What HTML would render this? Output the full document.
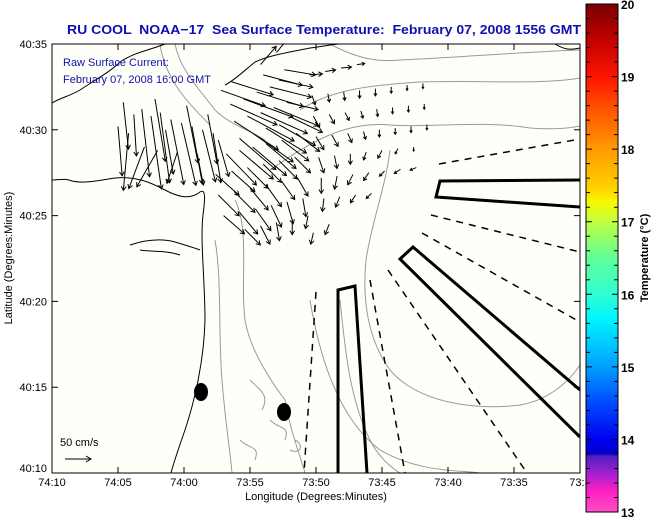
<!DOCTYPE html>
<html><head><meta charset="utf-8"><style>
html,body{margin:0;padding:0;background:#fff;}
svg{display:block;font-family:"Liberation Sans",sans-serif;}
</style></head><body>
<svg id="chart" width="651" height="518" viewBox="0 0 651 518" xmlns="http://www.w3.org/2000/svg">
<defs>
<linearGradient id="cb" x1="0" y1="0" x2="0" y2="1">
<stop offset="0" stop-color="#7a0000"/>
<stop offset="0.07" stop-color="#c00000"/>
<stop offset="0.143" stop-color="#ff1400"/>
<stop offset="0.21" stop-color="#ff5500"/>
<stop offset="0.286" stop-color="#ff9a00"/>
<stop offset="0.36" stop-color="#ffd000"/>
<stop offset="0.39" stop-color="#f8f800"/>
<stop offset="0.429" stop-color="#c0ff40"/>
<stop offset="0.5" stop-color="#60ff98"/>
<stop offset="0.571" stop-color="#30ffd0"/>
<stop offset="0.62" stop-color="#00f4ff"/>
<stop offset="0.714" stop-color="#00a0ff"/>
<stop offset="0.78" stop-color="#0050ff"/>
<stop offset="0.857" stop-color="#0000f0"/>
<stop offset="0.885" stop-color="#0000c8"/>
<stop offset="0.89" stop-color="#5020c0"/>
<stop offset="0.93" stop-color="#b020d0"/>
<stop offset="0.96" stop-color="#ff20c0"/>
<stop offset="1" stop-color="#ff50c8"/>
</linearGradient>
<clipPath id="pc"><rect x="52" y="44" width="528" height="429"/></clipPath>
</defs>
<text x="67" y="34" textLength="514" lengthAdjust="spacingAndGlyphs" font-size="13" font-weight="bold" fill="#1010b0" xml:space="preserve">RU COOL  NOAA−17  Sea Surface Temperature:  February 07, 2008 1556 GMT</text>
<rect x="52" y="44" width="528" height="429" fill="#fffffa"/>
<g clip-path="url(#pc)">
<g fill="none" stroke="#999" stroke-width="1">
<path d="M175,44 C180,70 200,90 215,110 C230,125 250,130 265,140"/>
<path d="M160,44 C165,80 190,105 210,125"/>
<path d="M330,44 C360,60 380,62 400,60 C450,58 520,52 580,50"/>
<path d="M300,110 C330,90 370,85 420,82 C480,80 540,85 580,78"/>
<path d="M270,170 C300,150 340,120 390,125 C430,128 480,120 530,128 C555,130 570,128 580,126"/>
<path d="M235,200 C250,230 240,280 245,320 C250,350 270,380 285,400 C290,430 300,455 305,473"/>
<path d="M215,240 C222,280 218,330 222,380 C225,420 230,450 232,473"/>
<path d="M390,150 C385,190 372,220 366,260 C362,300 368,340 390,370 C420,405 480,410 520,405 C550,400 570,380 580,365"/>
<path d="M340,300 C345,350 350,400 370,440 C380,460 395,470 400,473"/>
<path d="M310,300 C320,360 340,420 380,450 C420,473 460,470 480,473"/>
<path d="M250,380 C260,390 270,395 262,410 M270,420 C280,430 290,425 285,440 M240,440 C250,450 260,445 255,460 M295,440 C305,445 300,455 290,450"/>
</g>
<g fill="none" stroke="#000" stroke-width="1">
<path d="M52,103 C60,98 70,96 80,90 C95,80 110,72 120,62 C135,52 150,50 165,44"/>
<path d="M225,85 C235,80 245,70 255,62 C270,55 290,52 310,48 C325,46 335,44 340,44"/>
<path d="M52,180 C60,180 65,178 72,181 C85,184 100,180 115,178 C135,176 150,182 165,190 C178,197 190,200 200,192 C206,188 205,200 203,215 C200,240 205,280 205,320 C204,360 195,400 185,430 C178,450 173,465 171,473"/>
<path d="M130,245 C145,240 160,238 175,242 C185,245 195,248 200,250 M140,250 C150,252 165,250 180,255"/>
<path d="M555,44 C565,50 570,50 580,48"/>
</g>
<ellipse cx="201" cy="392" rx="7" ry="9" fill="#000"/>
<ellipse cx="284" cy="412" rx="7" ry="9" fill="#000"/>
<g fill="none" stroke="#000" stroke-width="3">
<path d="M338,473 L338,290 L355,286 L367,473"/>
<path d="M580,180 L440,181 L436,197 L580,207"/>
<path d="M580,390 L413,247 L400,259 L580,437"/>
</g>
<g fill="none" stroke="#000" stroke-width="1.5" stroke-dasharray="7,6">
<path d="M439,164 L580,139"/>
<path d="M431,215 L580,252"/>
<path d="M422,233 L580,322"/>
<path d="M388,270 L527,473"/>
<path d="M370,280 L405,473"/>
<path d="M316,292 L304,473"/>
</g>
<g id="arrows" stroke="#000" stroke-width="1" fill="none"></g>
</g>
<rect x="52" y="44" width="528" height="429" fill="none" stroke="#000" stroke-width="1"/>
<text x="63" y="66" font-size="11" fill="#1010b0">Raw Surface Current:</text>
<text x="63" y="83" font-size="11" fill="#1010b0">February 07, 2008 16:00 GMT</text>
<text x="60" y="446" font-size="11" fill="#000">50 cm/s</text>
<g stroke="#000" fill="none"><path d="M65,459 L91,459 M86,456 L91,459 L86,462"/></g>
<g id="xaxis"></g>
<g id="yaxis"></g>
<text x="316" y="500" text-anchor="middle" font-size="11">Longitude (Degrees:Minutes)</text>
<text transform="translate(12,258) rotate(-90)" text-anchor="middle" font-size="11">Latitude (Degrees:Minutes)</text>
<rect x="586" y="4" width="32" height="508" fill="url(#cb)" stroke="#000" stroke-width="1"/>
<g id="cbticks"></g>
<text transform="translate(648,258) rotate(-90)" text-anchor="middle" font-size="11" font-weight="bold">Temperature (°C)</text>
</svg>
<script>
const xTickLabels = ["74:10","74:05","74:00","73:55","73:50","73:45","73:40","73:35","73:3"];
const xTickMinutes = [0,5,10,15,20,25,30,35,40];
const yTickLabels = ["40:10","40:15","40:20","40:25","40:30","40:35"];
const yTickMinutes = [0,5,10,15,20,25];
const cbValues = [13,14,15,16,17,18,19,20];
// arrow positions: minutes east of 74:10W, minutes north of 40:10N
const arrowX = [5.0,5.8,6.8,7.5,8.2,9.0,9.8,10.6,11.4,12.2,7.0,8.0,9.5,11.0,12.6,5.4,6.2,7.8,8.6,10.2,11.8,
13.5,14.5,15.5,16.5,17.2,13.8,14.8,15.8,16.8,17.8,14.2,15.2,16.2,17.2,18.2,13.2,14.2,15.2,16.2,17.4,18.5,15.8,17.0,12.8,13.6,16.0,17.6,
12.4,13.6,14.8,16,17.2,18.4,12.6,13.8,15.0,16.2,17.4,18.6,13,14.2,15.4,16.6,17.8,19,14.6,15.8,17.0,18.2,19.4,
19.5,20.7,21.9,23.1,19.7,20.9,22.1,23.3,24.5,25.7,26.9,28.1,19.8,21,22.2,23.4,24.6,25.8,27,28.2,
20,21.2,22.4,23.6,24.8,26,27.2,28.4,20.2,21.4,22.6,23.8,25,26.2,27.4,20.4,21.6,22.8,24,25.2,26.4,27.6,20.6,21.8,23,24.2,19.8,21];
const arrowY = [20.2,19.8,21.2,20.8,21.0,20.6,20.4,20.2,20.0,19.8,19.0,18.8,18.7,18.6,19.4,21.6,20.9,21.8,20.0,21.4,20.9,
21.5,21.8,22.2,22.5,22.9,20.5,20.8,21.0,21.3,21.6,19.5,19.8,20.1,20.3,20.7,18.6,18.8,19.0,19.2,19.4,19.8,23.8,24.5,22.3,22.8,23.2,23.5,
17.4,17.6,17.8,18,18.2,18.4,16.2,16.4,16.6,16.8,17.0,17.2,15.0,15.2,15.4,15.6,15.8,16,14.2,14.4,14.6,14.8,15,
23.2,23.4,23.6,23.8,22.0,22.1,22.2,22.3,22.4,22.5,22.6,22.7,20.8,20.9,21,21.1,21.2,21.3,21.4,21.5,
19.6,19.7,19.8,19.9,20,20.1,20.2,20.3,18.4,18.5,18.6,18.7,18.8,18.9,19,17.2,17.3,17.4,17.5,17.6,17.7,17.8,16.0,16.1,16.2,16.3,14.0,14.5];
const arrowU = [8,-10,15,20,18,25,28,20,25,15,-30,-40,-20,12,20,10,5,20,15,22,18,
90,95,90,80,65,85,90,90,85,60,70,78,78,70,58,58,65,65,58,52,45,30,25,85,80,75,60,
45,45,40,35,35,30,40,40,35,30,25,20,40,35,30,20,12,6,30,18,6,0,-5,
25,20,20,15,6,3,2,0,0,0,0,0,12,10,8,4,2,0,0,0,
15,12,8,4,0,0,0,0,10,5,0,-5,-8,-5,0,0,-5,-10,-10,-10,-12,-12,-3,-8,-10,-10,-5,-8];
const arrowV = [-95,-110,-130,-140,-135,-125,-120,-110,-100,-95,-80,-70,-60,-60,-70,-90,-80,-120,-85,-110,-95,
-40,-35,-28,-20,-14,-55,-48,-40,-35,-14,-60,-55,-48,-40,-28,-60,-55,-55,-48,-40,-35,35,30,-30,-25,-20,-10,
-40,-40,-40,-35,-35,-30,-40,-40,-42,-42,-35,-35,-35,-42,-42,-42,-42,-35,-30,-35,-35,-30,-25,
2,3,2,2,-18,-16,-16,-15,-14,-12,-10,-10,-22,-18,-15,-14,-14,-12,-12,-10,
-25,-22,-18,-15,-14,-12,-12,-10,-30,-25,-20,-15,-15,-10,-8,-30,-25,-20,-15,-10,-8,-5,-25,-20,-15,-10,-22,-20];

const L=52,R=580,T=44,B=473;
function xScale(m){return L+m*(R-L)/40;}
function yScale(m){return B-m*(B-T)/25;}
const cmToPx=26/50;
const NS="http://www.w3.org/2000/svg";
function mk(tag,attrs,parent){const e=document.createElementNS(NS,tag);for(const k in attrs)e.setAttribute(k,attrs[k]);parent.appendChild(e);return e;}

const ag=document.getElementById('arrows');
for(let i=0;i<arrowX.length;i++){
  const x0=xScale(arrowX[i]),y0=yScale(arrowY[i]);
  const dx=arrowU[i]*cmToPx,dy=-arrowV[i]*cmToPx;
  const len=Math.hypot(dx,dy)||1;const ux=dx/len,uy=dy/len;
  const x1=x0+dx,y1=y0+dy,h=Math.min(4,len*0.35);
  const d=`M${x0},${y0} L${x1},${y1} M${x1-h*ux-h*0.6*uy},${y1-h*uy+h*0.6*ux} L${x1},${y1} L${x1-h*ux+h*0.6*uy},${y1-h*uy-h*0.6*ux}`;
  const p=mk('path',{d:d},ag);
  
  
}
const xg=document.getElementById('xaxis');
xTickMinutes.forEach((m,i)=>{
  const x=xScale(m);
  const t=mk('path',{d:`M${x},${B} L${x},${B-6} M${x},${T} L${x},${T+6}`,stroke:'#000',fill:'none'},xg);
  
  
  const tx=mk('text',{x:x,y:486,'text-anchor':'middle','font-size':'11'},xg);
  tx.textContent=xTickLabels[i];
  
  
});
const yg=document.getElementById('yaxis');
yTickMinutes.forEach((m,i)=>{
  const y=yScale(m);
  const t=mk('path',{d:`M${L},${y} L${L+6},${y} M${R},${y} L${R-6},${y}`,stroke:'#000',fill:'none'},yg);
  
  
  const tx=mk('text',{x:47,y:i===0?y-1:y+4,'text-anchor':'end','font-size':'11'},yg);
  tx.textContent=yTickLabels[i];
  
  
});
const cg=document.getElementById('cbticks');
function cbY(v){return 512-(v-13)*(508/7);}
for(let v=13;v<=20.001;v+=0.2){
  const y=cbY(v);const major=Math.abs(v-Math.round(v))<0.01;
  const w=major?6:4;
  const t=mk('path',{d:`M586,${y} L${586+w},${y} M618,${y} L${618-w},${y}`,stroke:'#000',fill:'none'},cg);
  
  
}
cbValues.forEach(v=>{
  const y=cbY(v);
  const tx=mk('text',{x:621,y:y+5,'font-size':'12','font-weight':'bold'},cg);
  tx.textContent=String(v);
  
  
});
</script>
</body></html>
